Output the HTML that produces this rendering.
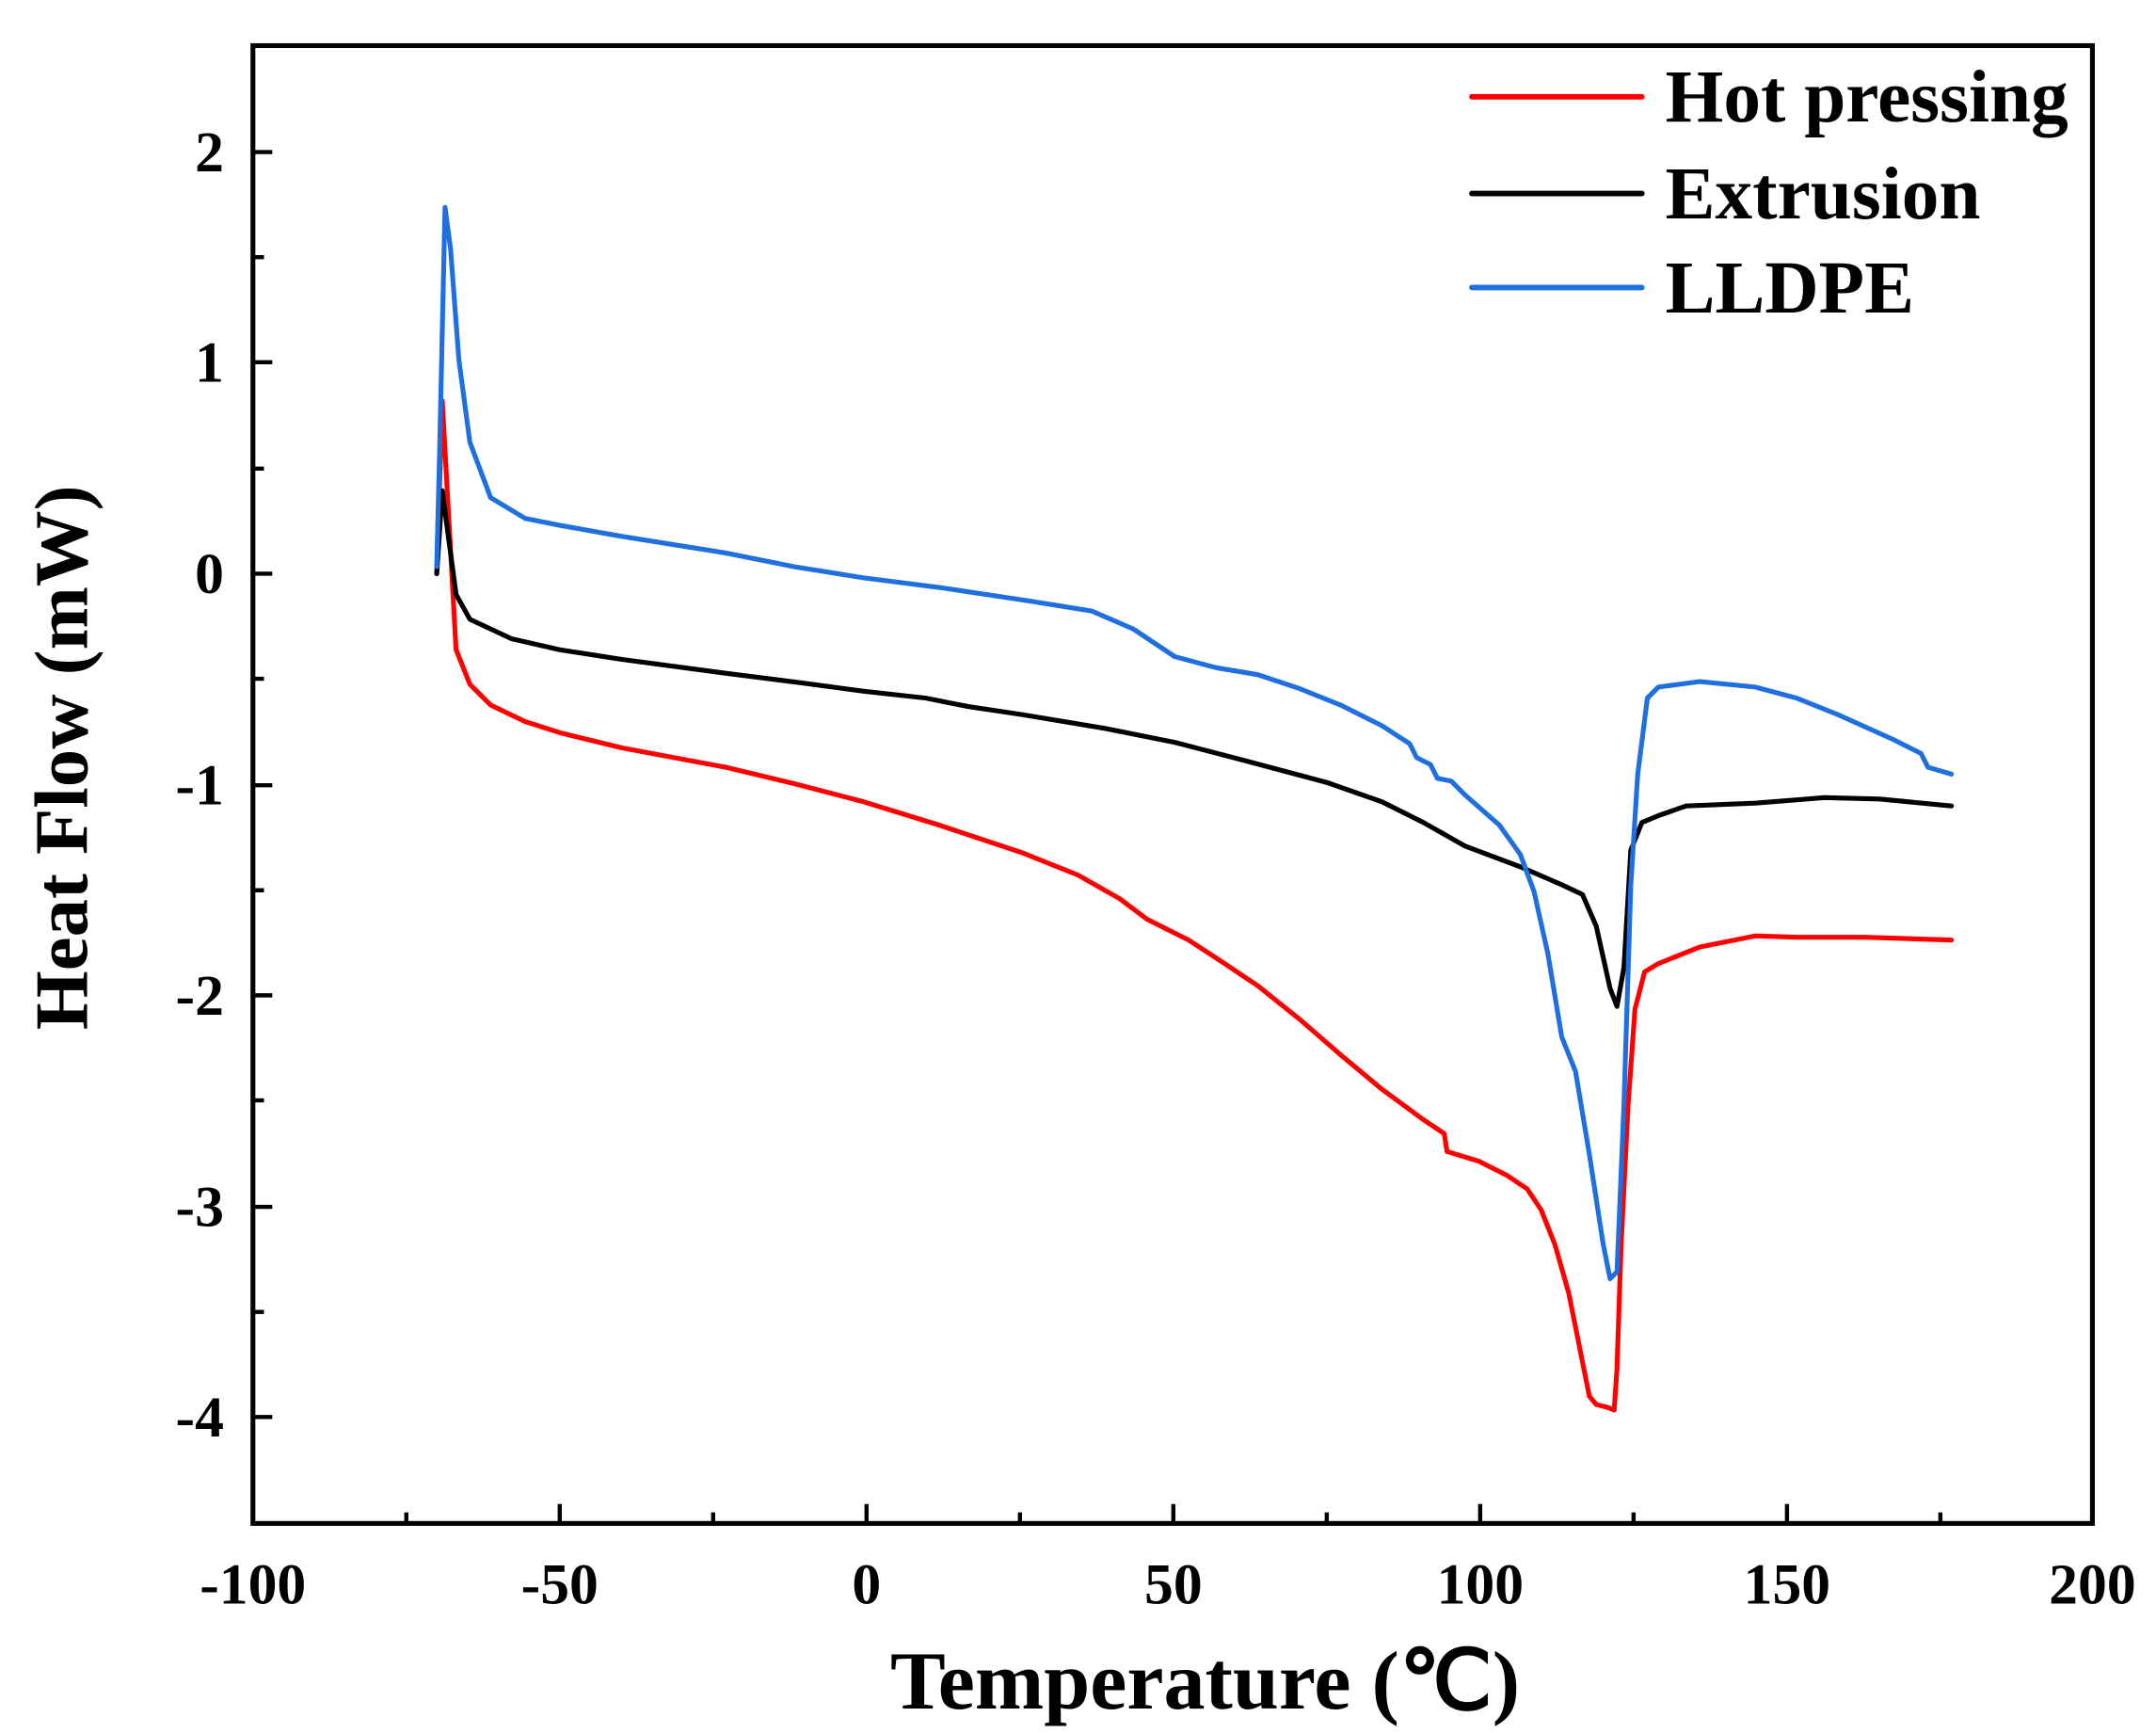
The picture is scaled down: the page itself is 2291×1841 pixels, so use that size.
<!DOCTYPE html>
<html><head><meta charset="utf-8"><style>html,body{margin:0;padding:0;background:#fff}svg{display:block}</style></head>
<body>
<svg width="2291" height="1841" viewBox="0 0 1560 1253.6" xmlns="http://www.w3.org/2000/svg" font-family="'Liberation Serif', serif" font-weight="bold">
<rect width="1560" height="1253.6" fill="#fff"/>
<g stroke="#000" stroke-width="3" fill="none">
<rect x="183" y="33" width="1331" height="1069" stroke-width="3.5"/>
<path d="M183 1102v-14M294 1102v-8M405 1102v-14M516 1102v-8M627 1102v-14M738 1102v-8M849 1102v-14M960 1102v-8M1071 1102v-14M1182 1102v-8M1293 1102v-14M1404 1102v-8M1514 1102v-14"/>
<path d="M183 110h14M183 186h8M183 262h14M183 339h8M183 415h14M183 491h8M183 568h14M183 644h8M183 720h14M183 796h8M183 873h14M183 949h8M183 1025h14"/>
</g>
<g font-size="42" text-anchor="end">
<text x="162" y="124">2</text><text x="162" y="276">1</text><text x="162" y="429">0</text>
<text x="162" y="582">-1</text><text x="162" y="734">-2</text><text x="162" y="887">-3</text><text x="162" y="1039">-4</text>
</g>
<g font-size="42" text-anchor="middle">
<text x="183" y="1160">-100</text><text x="405" y="1160">-50</text><text x="627" y="1160">0</text><text x="849" y="1160">50</text><text x="1071" y="1160">100</text><text x="1293" y="1160">150</text><text x="1514" y="1160">200</text>
</g>
<text x="872" y="1236" font-size="60" text-anchor="middle">Temperature (℃)</text>
<text transform="translate(63,548) rotate(-90)" font-size="55" text-anchor="middle">Heat Flow (mW)</text>
<g fill="none" stroke-width="3.5" stroke-linejoin="round" stroke-linecap="round">
<polyline stroke="#ff0000" points="316,415 320,290 330,470 340,495 355,510 380,522 405,530 450,541 525,555 575,567 625,580 680,597 740,617 780,633 810,650 830,665 860,680 880,693 910,713 940,737 970,763 1000,788 1030,810 1045,820 1047,833 1070,840 1090,850 1105,860 1115,875 1125,900 1135,935 1143,975 1150,1010 1155,1016 1163,1018 1168,1020 1170,990 1173,900 1178,800 1183,730 1190,703 1200,697 1230,685 1270,677 1300,678 1350,678 1412,680"/>
<polyline stroke="#000000" points="316,415 320,355 330,430 340,448 370,462 405,470 450,477 525,487 580,494 625,500 670,505 700,511 740,517 800,527 850,537 900,550 960,566 1000,580 1030,595 1060,612 1100,627 1130,640 1145,647 1155,670 1165,715 1170,728 1175,700 1180,615 1188,595 1200,590 1220,583 1270,581 1320,577 1360,578 1412,583"/>
<polyline stroke="#1f6fdf" points="316,410 318,330 322,150 326,180 332,260 340,320 355,360 380,375 405,380 450,388 525,400 575,410 625,418 680,425 740,434 790,442 820,455 850,475 880,483 910,488 940,498 970,510 1000,525 1020,538 1025,548 1035,553 1040,563 1050,565 1060,575 1085,597 1100,618 1110,645 1120,690 1130,750 1140,775 1150,835 1160,900 1165,925 1170,920 1175,800 1180,640 1185,560 1192,505 1200,497 1230,493 1270,497 1300,505 1330,517 1370,535 1390,545 1395,555 1412,560"/>
</g>
<g stroke-width="4" stroke-linecap="round">
<line x1="1065" y1="70" x2="1188" y2="70" stroke="#ff0000"/>
<line x1="1065" y1="140" x2="1188" y2="140" stroke="#000"/>
<line x1="1065" y1="208" x2="1188" y2="208" stroke="#1f6fdf"/>
</g>
<g font-size="54">
<text x="1205" y="88">Hot pressing</text>
<text x="1205" y="158">Extrusion</text>
<text x="1205" y="226">LLDPE</text>
</g>
</svg>
</body></html>
